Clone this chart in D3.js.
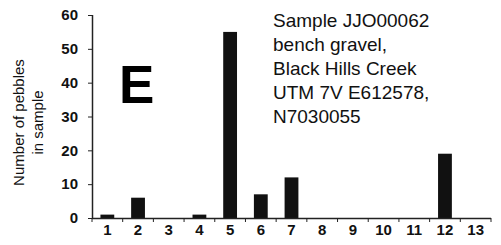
<!DOCTYPE html>
<html>
<head>
<meta charset="utf-8">
<script src="https://cdn.jsdelivr.net/npm/d3@7"></script>
<style>
  body { margin: 0; background: #fff; }
  svg { display: block; font-family: "Liberation Sans", Arial, Helvetica, sans-serif; }
</style>
</head>
<body>
<svg></svg>
<script>
let categories = ['1', '2', '3', '4', '5', '6', '7', '8', '9', '10', '11', '12', '13']
let counts = [1, 6, 0, 1, 55, 7, 12, 0, 0, 0, 0, 19, 0]
let yTicks = [0, 10, 20, 30, 40, 50, 60]
let noteLines = ['Sample JJO00062', 'bench gravel,', 'Black Hills Creek', 'UTM 7V E612578,', 'N7030055']

let width = 501
let height = 245
let plotLeft = 92
let plotRight = 491
let plotTop = 15
let plotBottom = 218

let svg = d3.select('svg')
    .attr('width', width)
    .attr('height', height)

let xScale = d3.scaleBand()
    .domain(categories)
    .range([plotLeft, plotRight])
    .paddingInner(0.55)
    .paddingOuter(0.275)

let yScale = d3.scaleLinear()
    .domain([0, 60])
    .range([plotBottom, plotTop])

// bars
svg.selectAll('rect')
    .data(counts)
    .enter()
    .append('rect')
    .attr('x', (d, i) => xScale(categories[i]))
    .attr('width', xScale.bandwidth())
    .attr('y', d => yScale(d))
    .attr('height', d => plotBottom - yScale(d))
    .attr('fill', '#111')

// y axis
let yAxis = d3.axisLeft(yScale)
    .tickValues(yTicks)
    .tickSize(4)
    .tickPadding(10)

let gy = svg.append('g')
    .attr('transform', 'translate(' + plotLeft + ',0)')
    .call(yAxis)
gy.select('.domain').attr('d', 'M0.5,' + plotTop + 'V' + plotBottom).attr('stroke', '#222').attr('stroke-width', 1.5)
gy.selectAll('.tick line').attr('stroke', '#222')
gy.selectAll('text')
    .attr('font-size', 15)
    .attr('font-weight', 'bold')
    .attr('fill', '#111')
    .attr('font-family', '"Liberation Sans", Arial, sans-serif')

// x axis with ticks at category boundaries
let step = xScale.step()
let xAxis = d3.axisBottom(xScale).tickSize(0).tickPadding(6)
let gx = svg.append('g')
    .attr('transform', 'translate(0,' + plotBottom + ')')
    .call(xAxis)
gx.select('.domain').attr('d', 'M' + plotLeft + ',0.5H' + plotRight).attr('stroke', '#222').attr('stroke-width', 1.5)
gx.selectAll('text')
    .attr('font-size', 15)
    .attr('font-weight', 'bold')
    .attr('fill', '#111')
    .attr('font-family', '"Liberation Sans", Arial, sans-serif')

gx.selectAll('.boundary')
    .data(d3.range(categories.length + 1))
    .enter()
    .append('line')
    .attr('x1', i => plotLeft + i * step)
    .attr('x2', i => plotLeft + i * step)
    .attr('y1', 0)
    .attr('y2', 4)
    .attr('stroke', '#222')

// y axis title
let title = svg.append('text')
    .attr('transform', 'translate(28,' + ((plotTop + plotBottom) / 2 + 6) + ') rotate(-90)')
    .attr('text-anchor', 'middle')
    .attr('font-size', 15)
    .attr('fill', '#111')
title.append('tspan').attr('x', 0).attr('dy', -4).text('Number of pebbles')
title.append('tspan').attr('x', 0).attr('dy', 19).text('in sample')

// panel letter
svg.append('text')
    .attr('x', 119)
    .attr('y', 103)
    .attr('font-size', 53)
    .attr('font-weight', 'bold')
    .attr('fill', '#000')
    .text('E')

// sample note
svg.append('g')
    .selectAll('text')
    .data(noteLines)
    .enter()
    .append('text')
    .attr('x', 273)
    .attr('y', (d, i) => 27 + i * 24)
    .attr('font-size', 19)
    .attr('fill', '#111')
    .text(d => d)
</script>
</body>
</html>
